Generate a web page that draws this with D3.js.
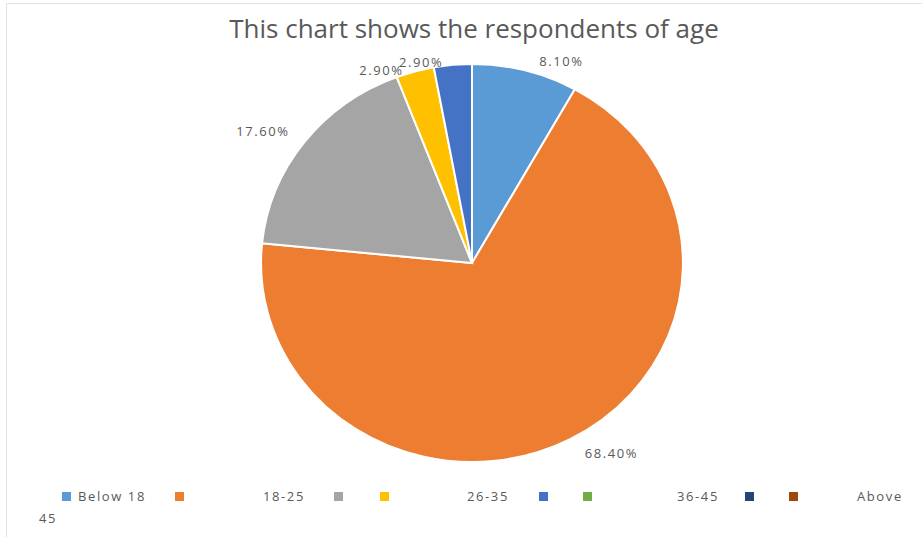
<!DOCTYPE html>
<html>
<head>
<meta charset="utf-8">
<script src="https://cdn.jsdelivr.net/npm/d3@7"></script>
<style>
  html, body { margin: 0; padding: 0; background: #fff; }
  text { font-family: "Open Sans", "Liberation Sans", sans-serif; fill: #595959; }
  .small { letter-spacing: 1.6px; }
</style>
</head>
<body>
<svg id="chart" width="922" height="537"></svg>
<script>
// data
const categories = ["Below 18", "18-25", "26-35", "36-45", "Above 45"];
const shares = [8.1, 68.4, 17.6, 2.9, 2.9];
const sliceColors = ["#5B9BD5", "#ED7D31", "#A5A5A5", "#FFC000", "#4472C4"];

// legend as it is printed (excel palette, labels spread oddly)
const legendColors = ["#5B9BD5", "#ED7D31", "#A5A5A5", "#FFC000", "#4472C4", "#70AD47", "#264478", "#9E480E"];
const legendTexts = ["Below 18", "18-25", "26-35", "36-45", "Above", "45"];

const width = 922, height = 537;
const cx = 472, cy = 263;
const ry = 199, sx = 1.06;   // picture is a bit stretched sideways

const svg = d3.select("#chart");

// faint chart border
svg.append("rect")
    .attr("x", 6.5).attr("y", 3.5)
    .attr("width", width).attr("height", height)
    .attr("fill", "none")
    .attr("stroke", "#e3e3e3");

svg.append("text")
    .attr("x", 474).attr("y", 38)
    .attr("text-anchor", "middle")
    .attr("font-size", 26)
    .text("This chart shows the respondents of age");

const pie = d3.pie().sort(null).value(d => d);
const arcs = pie(shares);
const arc = d3.arc().innerRadius(0).outerRadius(ry);

const gPie = svg.append("g")
    .attr("transform", `translate(${cx},${cy}) scale(${sx},1)`);

gPie.selectAll("path")
    .data(arcs)
    .enter().append("path")
    .attr("d", arc)
    .attr("fill", (d, i) => sliceColors[i])
    .attr("stroke", "#fff")
    .attr("stroke-width", 2)
    .attr("vector-effect", "non-scaling-stroke");

// data labels: outside each slice's middle angle, then nudged like excel's best fit
const labelR = 215;
const labelNudge = [[32, 6], [34, -1], [-28, -1], [-29, 14], [-30, 13]];
svg.append("g").selectAll("text")
    .data(arcs)
    .enter().append("text")
    .classed("small", true)
    .attr("text-anchor", "middle")
    .attr("dominant-baseline", "central")
    .attr("font-size", 13)
    .attr("x", (d, i) => {
        const a = (d.startAngle + d.endAngle) / 2;
        return cx + sx * labelR * Math.sin(a) + labelNudge[i][0];
    })
    .attr("y", (d, i) => {
        const a = (d.startAngle + d.endAngle) / 2;
        return cy - labelR * Math.cos(a) + labelNudge[i][1];
    })
    .text(d => d.data.toFixed(2) + "%");

// legend
const swatchX = [62, 175, 334, 380, 539, 583, 745, 789];
const textPos = [[78, 501], [263, 501], [467, 501], [677, 501], [857, 501], [39, 523]];
const gLegend = svg.append("g").classed("legend", true);
gLegend.selectAll("rect")
    .data(legendColors)
    .enter().append("rect")
    .attr("x", (d, i) => swatchX[i])
    .attr("y", 492)
    .attr("width", 9).attr("height", 9)
    .attr("fill", d => d);
gLegend.selectAll("text")
    .data(legendTexts)
    .enter().append("text")
    .classed("small", true)
    .attr("x", (d, i) => textPos[i][0])
    .attr("y", (d, i) => textPos[i][1])
    .attr("font-size", 13)
    .text(d => d);
</script>
</body>
</html>
